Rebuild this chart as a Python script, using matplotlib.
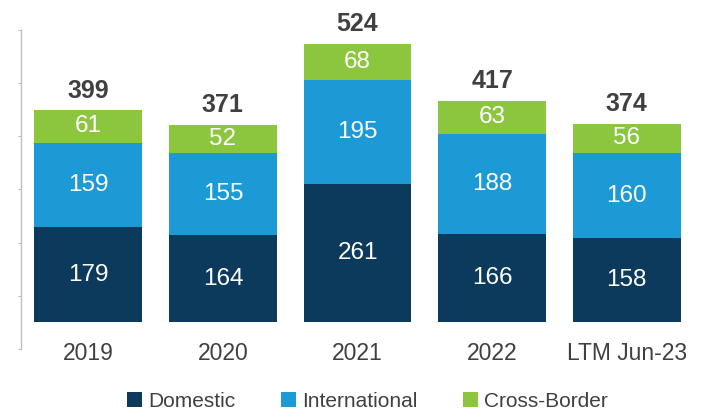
import matplotlib.pyplot as plt
import numpy as np

plt.rcParams['font.family'] = ['Liberation Sans', 'DejaVu Sans']

periods = ['2019', '2020', '2021', '2022', 'LTM Jun-23']
domestic = [179, 164, 261, 166, 158]
international = [159, 155, 195, 188, 160]
cross_border = [61, 52, 68, 63, 56]
series_names = ['Domestic', 'International', 'Cross-Border']

colors = ['#0c3a5d', '#1c9ad6', '#8cc63f']

fig = plt.figure(figsize=(7.07, 4.11), dpi=100)
ax = fig.add_axes([0.0297, 0.151, 0.952, 0.776])

x = np.arange(len(periods))
width = 0.8
bottom = np.zeros(len(periods))
for vals, name, col in zip([domestic, international, cross_border], series_names, colors):
    vals = np.array(vals)
    ax.bar(x, vals, width, bottom=bottom, color=col, label=name, zorder=2)
    for xi, b, v in zip(x, bottom, vals):
        ax.text(xi, b + v / 2, str(v), ha='center', va='center',
                color='white', fontsize=17.5, zorder=3)
    bottom += vals

# totals above each stack
for xi, tot in zip(x, bottom):
    ax.text(xi, tot + 37, str(int(tot)), ha='center', va='center',
            color='#404040', fontsize=18, fontweight='bold')

# category labels under the stacks
for xi, lab in zip(x, periods):
    ax.text(xi, -58, lab, ha='center', va='center', color='#404040', fontsize=16.5)

ax.set_xlim(-0.5, 4.5)
ax.set_ylim(-50, 550)
ax.set_yticks(np.arange(-50, 551, 100))
ax.set_yticklabels([])
ax.set_xticks([])
ax.tick_params(axis='y', length=2.5, width=0.8, color='#bfbfbf', direction='out')
for side in ['top', 'right', 'bottom']:
    ax.spines[side].set_visible(False)
ax.spines['left'].set_color('#bfbfbf')
ax.spines['left'].set_linewidth(1.0)

leg = fig.legend(loc='center', bbox_to_anchor=(0.52, 0.024), ncol=3, frameon=False,
                 fontsize=15, handlelength=0.7, handleheight=0.7, handletextpad=0.3,
                 columnspacing=2.2)
for t in leg.get_texts():
    t.set_color('#404040')

fig.savefig('out.png', dpi=100)
